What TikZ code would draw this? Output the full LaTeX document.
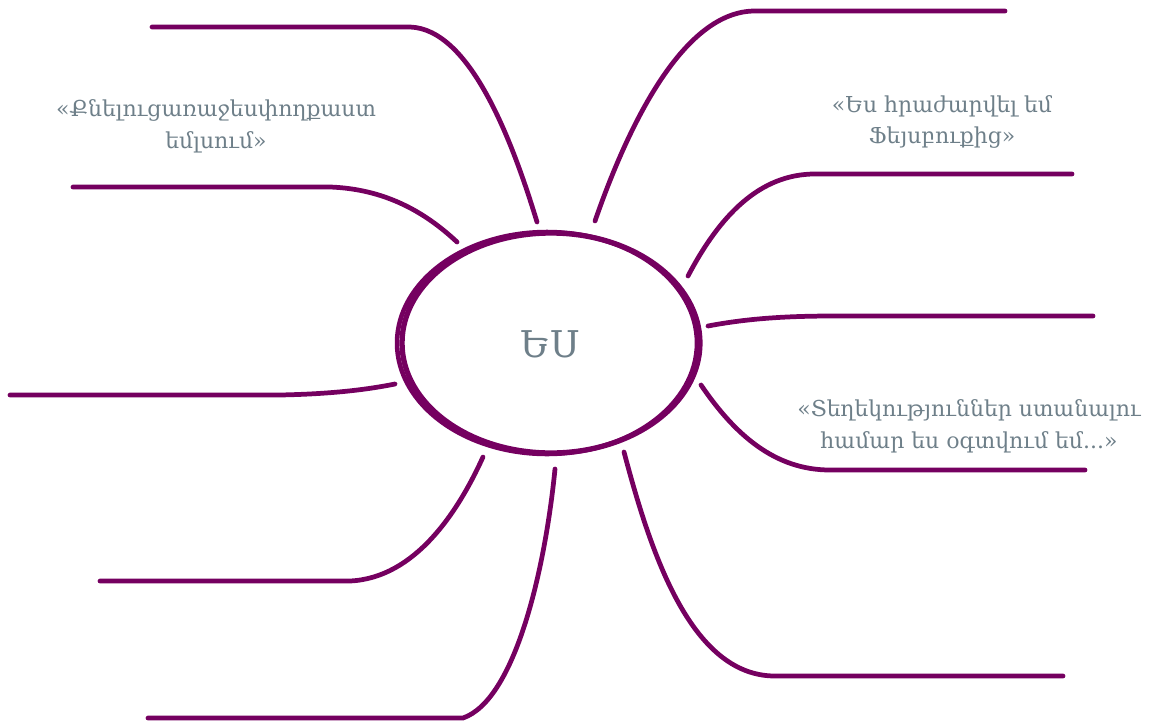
\documentclass[tikz,border=0pt]{standalone}
\usepackage{fontspec}
\setmainfont{DejaVu Serif}
\usetikzlibrary{shapes.geometric}
\definecolor{plum}{HTML}{750060}
\definecolor{slate}{HTML}{6E7F89}
\tikzset{
  branch/.style={color=plum, line width=2.7pt, line cap=round},
  note/.style={text=slate, font=\fontsize{12.5}{18}\selectfont, align=center},
}
\begin{document}
\begin{tikzpicture}[x=0.02cm, y=-0.02cm]
    \useasboundingbox (0,0) rectangle (1155,720);
    % centre
    \node[ellipse, minimum width=6cm, minimum height=4.4cm, text=slate, font=\fontsize{21}{24}\selectfont] (me) at (550,344) {ԵՍ};
    \draw[color=plum, line width=3pt] (551,343) ellipse [x radius=2.98cm, y radius=2.2cm];
    \draw[color=plum, line width=2.6pt] (547,343) ellipse [x radius=3cm, y radius=2.22cm];
    % labels
    \node[note] (sleep) at (216,126) {«Քնելուցառաջեսփողքաստ\\եմլսում»};
    \node[note] (fb) at (942,122) {«Ես հրաժարվել եմ\\Ֆեյսբուքից»};
    \node[note] (info) at (969,426) {«Տեղեկություններ ստանալու\\համար ես օգտվում եմ...»};
    % branch ends
    \coordinate (l1) at (537,222);
    \coordinate (l2) at (457,242);
    \coordinate (l3) at (395,384);
    \coordinate (l4) at (483,457);
    \coordinate (l5) at (555,469);
    \coordinate (r1) at (595,221);
    \coordinate (r2) at (688,276);
    \coordinate (r3) at (708,326);
    \coordinate (r4) at (701,385);
    \coordinate (r5) at (624,452);
    % left branches
    \draw[branch] (152,27) -- (410,27) .. controls (470,29) and (512,140) .. (l1);
    \draw[branch] (73,187) -- (330,187) .. controls (385,189) and (425,212) .. (l2);
    \draw[branch] (10,395) -- (280,395) .. controls (330,394) and (365,390) .. (l3);
    \draw[branch] (100,581) -- (350,581) .. controls (415,578) and (458,512) .. (l4);
    \draw[branch] (148,718) -- (463,718) .. controls (515,700) and (545,570) .. (l5);
    % right branches
    \draw[branch] (r1) .. controls (630,120) and (685,11) .. (755,11) -- (1005,11);
    \draw[branch] (r2) .. controls (720,215) and (760,174) .. (815,174) -- (1072,174);
    \draw[branch] (r3) .. controls (750,318) and (790,316) .. (835,316) -- (1093,316);
    \draw[branch] (r4) .. controls (735,435) and (775,470) .. (830,470) -- (1085,470);
    \draw[branch] (r5) .. controls (650,550) and (690,676) .. (775,676) -- (1063,676);
\end{tikzpicture}
\end{document}
